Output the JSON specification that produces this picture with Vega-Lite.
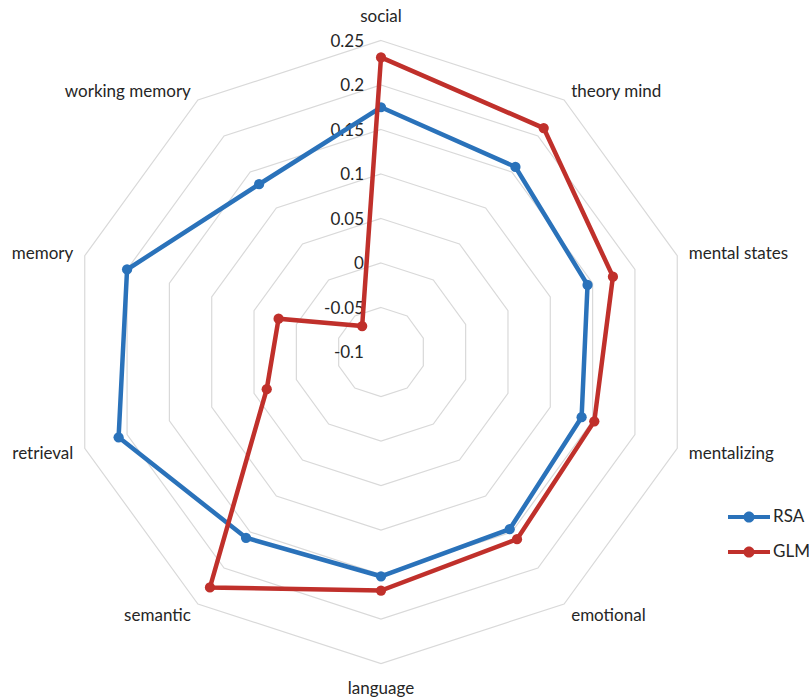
{
  "$schema": "https://vega.github.io/schema/vega-lite/v6.json",
  "width": 809,
  "height": 697,
  "autosize": "none",
  "padding": 0,
  "background": "white",
  "config": {"view": {"stroke": null}, "font": "Lato", "text": {"font": "Lato"}},
  "datasets": {
    "scores": [
      {"category": "social", "RSA": 0.175, "GLM": 0.231},
      {"category": "theory mind", "RSA": 0.157, "GLM": 0.211},
      {"category": "mental states", "RSA": 0.144, "GLM": 0.174},
      {"category": "mentalizing", "RSA": 0.137, "GLM": 0.152},
      {"category": "emotional", "RSA": 0.146, "GLM": 0.16},
      {"category": "language", "RSA": 0.152, "GLM": 0.168},
      {"category": "semantic", "RSA": 0.158, "GLM": 0.227},
      {"category": "retrieval", "RSA": 0.21, "GLM": 0.035},
      {"category": "memory", "RSA": 0.2, "GLM": 0.021},
      {"category": "working memory", "RSA": 0.133, "GLM": -0.064}
    ],
    "levels": [
      {"level": -0.1, "label": "-0.1"},
      {"level": -0.05, "label": "-0.05", "spokes": [0, 1, 2, 3, 4, 5, 6, 7, 8, 9]},
      {"level": 0, "label": "0", "spokes": [0, 1, 2, 3, 4, 5, 6, 7, 8, 9]},
      {"level": 0.05, "label": "0.05", "spokes": [0, 1, 2, 3, 4, 5, 6, 7, 8, 9]},
      {"level": 0.1, "label": "0.1", "spokes": [0, 1, 2, 3, 4, 5, 6, 7, 8, 9]},
      {"level": 0.15, "label": "0.15", "spokes": [0, 1, 2, 3, 4, 5, 6, 7, 8, 9]},
      {"level": 0.2, "label": "0.2", "spokes": [0, 1, 2, 3, 4, 5, 6, 7, 8, 9]},
      {"level": 0.25, "label": "0.25", "spokes": [0, 1, 2, 3, 4, 5, 6, 7, 8, 9]}
    ]
  },
  "encoding": {
    "x": {"field": "px", "type": "quantitative", "scale": {"domain": [-0.42809, 0.4809], "nice": false, "zero": false}, "axis": null},
    "y": {"field": "py", "type": "quantitative", "scale": {"domain": [-0.38764, 0.395506], "nice": false, "zero": false}, "axis": null}
  },
  "layer": [
    {
      "data": {"name": "levels"},
      "transform": [
        {"filter": "datum.level > -0.1"},
        {"flatten": ["spokes"], "as": ["spoke"]},
        {"calculate": "datum.spoke * PI / 5", "as": "angle"},
        {"calculate": "(datum.level + 0.1) * sin(datum.angle)", "as": "px"},
        {"calculate": "(datum.level + 0.1) * cos(datum.angle)", "as": "py"}
      ],
      "mark": {"type": "line", "interpolate": "linear-closed", "stroke": "#d9d9d9", "strokeWidth": 1.2},
      "encoding": {
        "detail": {"field": "level", "type": "nominal"},
        "order": {"field": "spoke", "type": "quantitative"}
      }
    },
    {
      "data": {"name": "levels"},
      "transform": [
        {"calculate": "0", "as": "px"},
        {"calculate": "datum.level + 0.1", "as": "py"}
      ],
      "mark": {"type": "text", "align": "right", "baseline": "middle", "dx": -17, "dy": 1, "fontSize": 17, "color": "#262626"},
      "encoding": {"text": {"field": "label"}}
    },
    {
      "data": {"name": "scores"},
      "transform": [
        {"window": [{"op": "row_number", "as": "n"}]},
        {"calculate": "(datum.n - 1) * PI / 5", "as": "angle"},
        {"fold": ["RSA", "GLM"], "as": ["series", "value"]},
        {"filter": "datum.series == 'RSA'"},
        {"calculate": "(datum.value + 0.1) * sin(datum.angle)", "as": "px"},
        {"calculate": "(datum.value + 0.1) * cos(datum.angle)", "as": "py"}
      ],
      "mark": {"type": "line", "interpolate": "linear-closed", "strokeWidth": 4.5, "point": {"filled": true, "size": 105, "opacity": 1}},
      "encoding": {
        "order": {"field": "n", "type": "quantitative"},
        "color": {
          "field": "series", "type": "nominal",
          "scale": {"domain": ["RSA", "GLM"], "range": ["#2a72ba", "#c0302b"]},
          "legend": {
            "title": null, "orient": "none", "legendX": 738.5, "legendY": 506.5,
            "symbolType": "M -2 -0.2 L 2 -0.2 L 2 0.2 L -2 0.2 Z M 0.53 0 A 0.53 0.53 0 1 1 -0.53 0 A 0.53 0.53 0 1 1 0.53 0 Z",
            "symbolSize": 441, "symbolStrokeWidth": 0, "labelFontSize": 17, "labelFont": "Lato", "labelColor": "#262626",
            "labelOffset": 13.5, "rowPadding": 16, "padding": 0,
            "encode": {"symbols": {"update": {"fill": {"scale": "color", "field": "value"}, "stroke": {"value": "transparent"}, "opacity": {"value": 1}}}}
          }
        }
      }
    },
    {
      "data": {"name": "scores"},
      "transform": [
        {"window": [{"op": "row_number", "as": "n"}]},
        {"calculate": "(datum.n - 1) * PI / 5", "as": "angle"},
        {"fold": ["RSA", "GLM"], "as": ["series", "value"]},
        {"filter": "datum.series == 'GLM'"},
        {"calculate": "(datum.value + 0.1) * sin(datum.angle)", "as": "px"},
        {"calculate": "(datum.value + 0.1) * cos(datum.angle)", "as": "py"}
      ],
      "mark": {"type": "line", "interpolate": "linear-closed", "strokeWidth": 4.5, "point": {"filled": true, "size": 105, "opacity": 1}},
      "encoding": {
        "order": {"field": "n", "type": "quantitative"},
        "color": {
          "field": "series", "type": "nominal",
          "scale": {"domain": ["RSA", "GLM"], "range": ["#2a72ba", "#c0302b"]},
          "legend": {
            "title": null, "orient": "none", "legendX": 738.5, "legendY": 506.5,
            "symbolType": "M -2 -0.2 L 2 -0.2 L 2 0.2 L -2 0.2 Z M 0.53 0 A 0.53 0.53 0 1 1 -0.53 0 A 0.53 0.53 0 1 1 0.53 0 Z",
            "symbolSize": 441, "symbolStrokeWidth": 0, "labelFontSize": 17, "labelFont": "Lato", "labelColor": "#262626",
            "labelOffset": 13.5, "rowPadding": 16, "padding": 0,
            "encode": {"symbols": {"update": {"fill": {"scale": "color", "field": "value"}, "stroke": {"value": "transparent"}, "opacity": {"value": 1}}}}
          }
        }
      }
    },
    {
      "data": {"name": "scores"},
      "transform": [
        {"window": [{"op": "row_number", "as": "n"}]},
        {"filter": "datum.n == 1 || datum.n == 6"},
        {"calculate": "(datum.n - 1) * PI / 5", "as": "angle"},
        {"calculate": "0.377 * sin(datum.angle)", "as": "px"},
        {"calculate": "0.377 * cos(datum.angle)", "as": "py"}
      ],
      "mark": {"type": "text", "align": "center", "baseline": "middle", "dy": 1, "fontSize": 17, "color": "#262626"},
      "encoding": {"text": {"field": "category"}}
    },
    {
      "data": {"name": "scores"},
      "transform": [
        {"window": [{"op": "row_number", "as": "n"}]},
        {"filter": "datum.n >= 2 && datum.n <= 5"},
        {"calculate": "(datum.n - 1) * PI / 5", "as": "angle"},
        {"calculate": "0.3635 * sin(datum.angle)", "as": "px"},
        {"calculate": "0.3635 * cos(datum.angle)", "as": "py"}
      ],
      "mark": {"type": "text", "align": "left", "baseline": "middle", "dy": 2, "fontSize": 17, "color": "#262626"},
      "encoding": {"text": {"field": "category"}}
    },
    {
      "data": {"name": "scores"},
      "transform": [
        {"window": [{"op": "row_number", "as": "n"}]},
        {"filter": "datum.n >= 7"},
        {"calculate": "(datum.n - 1) * PI / 5", "as": "angle"},
        {"calculate": "0.3635 * sin(datum.angle)", "as": "px"},
        {"calculate": "0.3635 * cos(datum.angle)", "as": "py"}
      ],
      "mark": {"type": "text", "align": "right", "baseline": "middle", "dy": 2, "fontSize": 17, "color": "#262626"},
      "encoding": {"text": {"field": "category"}}
    }
  ]
}
